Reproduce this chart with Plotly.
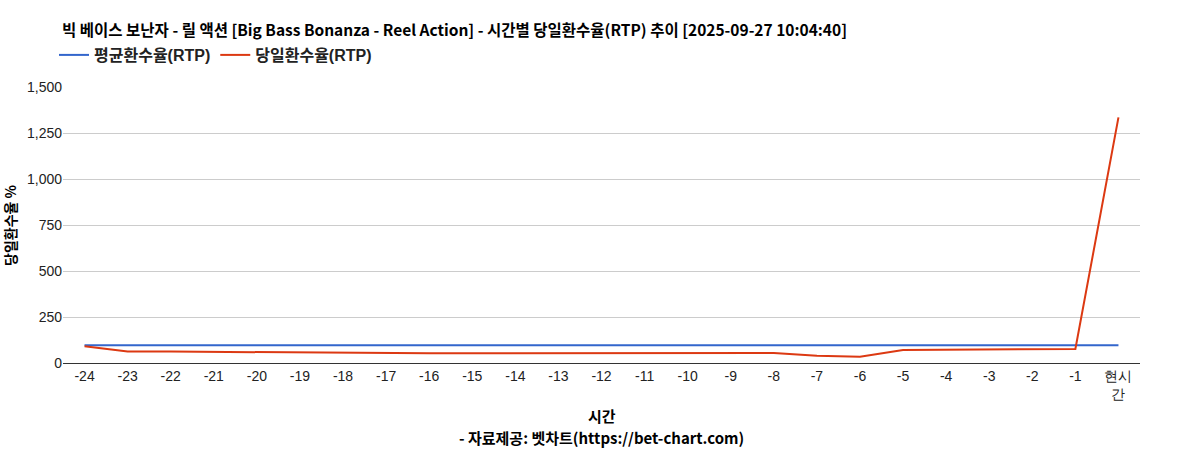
import plotly.graph_objects as go

categories = [str(i) for i in range(-24, 0)] + ["현시<br>간"]
avg_rtp = [97] * 25
daily_rtp = [91, 62, 62, 60, 59, 59, 57, 51, 53, 53, 53, 53, 53, 54, 53, 53, 54,
             40, 34, 71, 72, 74, 75, 76, 1335]
y_ticks = [0, 250, 500, 750, 1000, 1250, 1500]
y_tick_text = ["0", "250", "500", "750", "1,000", "1,250", "1,500"]

font_kr = "Noto Sans CJK KR, Arial, sans-serif"
font_mix = "Arial, Noto Sans CJK KR, sans-serif"
W, H = 1201, 450
L, R, T, B = 63, 61, 87, 87
PW, PH = W - L - R, H - T - B

fig = go.Figure()
fig.add_trace(go.Scatter(x=categories, y=avg_rtp, mode="lines", name="<b>평균환수율(RTP)</b>",
                         line=dict(color="#3366cc", width=2)))
fig.add_trace(go.Scatter(x=categories, y=daily_rtp, mode="lines", name="<b>당일환수율(RTP)</b>",
                         line=dict(color="#dc3912", width=2)))

fig.update_layout(
    width=W, height=H,
    paper_bgcolor="white", plot_bgcolor="white",
    margin=dict(l=L, r=R, t=T, b=B),
    title=dict(text="<b>빅 베이스 보난자 - 릴 액션 [Big Bass Bonanza - Reel Action] - 시간별 당일환수율(RTP) 추이 [2025-09-27 10:04:40]</b>",
               x=62/W, xanchor="left", y=1-31/H, yanchor="middle",
               font=dict(family=font_kr, size=15.5, color="#000")),
    legend=dict(orientation="h", x=54/W, xanchor="left", xref="container",
                y=1-55/H, yanchor="middle", yref="container",
                font=dict(family=font_mix, size=16, color="#222"),
                itemwidth=30, traceorder="normal"),
    showlegend=True,
    hovermode=False,
    annotations=[
        dict(text="<b>당일환수율 %</b>", textangle=-90, xref="paper", yref="paper",
             x=(10 - L) / PW, y=(363 - 225) / PH, xanchor="center", yanchor="middle", showarrow=False,
             font=dict(family=font_kr, size=14, color="#000")),
        dict(text="<b>시간</b>", xref="paper", yref="paper", x=0.5, y=-(415 - 363) / PH,
             xanchor="center", yanchor="middle", showarrow=False,
             font=dict(family=font_kr, size=15, color="#000")),
        dict(text="<b>- 자료제공: 벳차트(https://bet-chart.com)</b>", xref="paper", yref="paper",
             x=0.5, y=-(437 - 363) / PH, xanchor="center", yanchor="middle", showarrow=False,
             font=dict(family=font_kr, size=15, color="#000")),
    ],
)
fig.update_xaxes(type="category", showgrid=False, showline=True, linecolor="#333", linewidth=1,
                 ticks="", tickfont=dict(family="Arial", size=14, color="#222"),
                 range=[-0.5, 24.5], automargin=False)
fig.update_yaxes(range=[0, 1500], tickvals=y_ticks, ticktext=y_tick_text,
                 showgrid=True, gridcolor="#cccccc", zeroline=False,
                 tickfont=dict(family="Arial", size=14, color="#222"),
                 ticks="", showline=False, automargin=False)

fig.write_html("out.html", config={"displayModeBar": False},
               post_script="document.body.style.margin='0';document.body.style.overflow='hidden';")
